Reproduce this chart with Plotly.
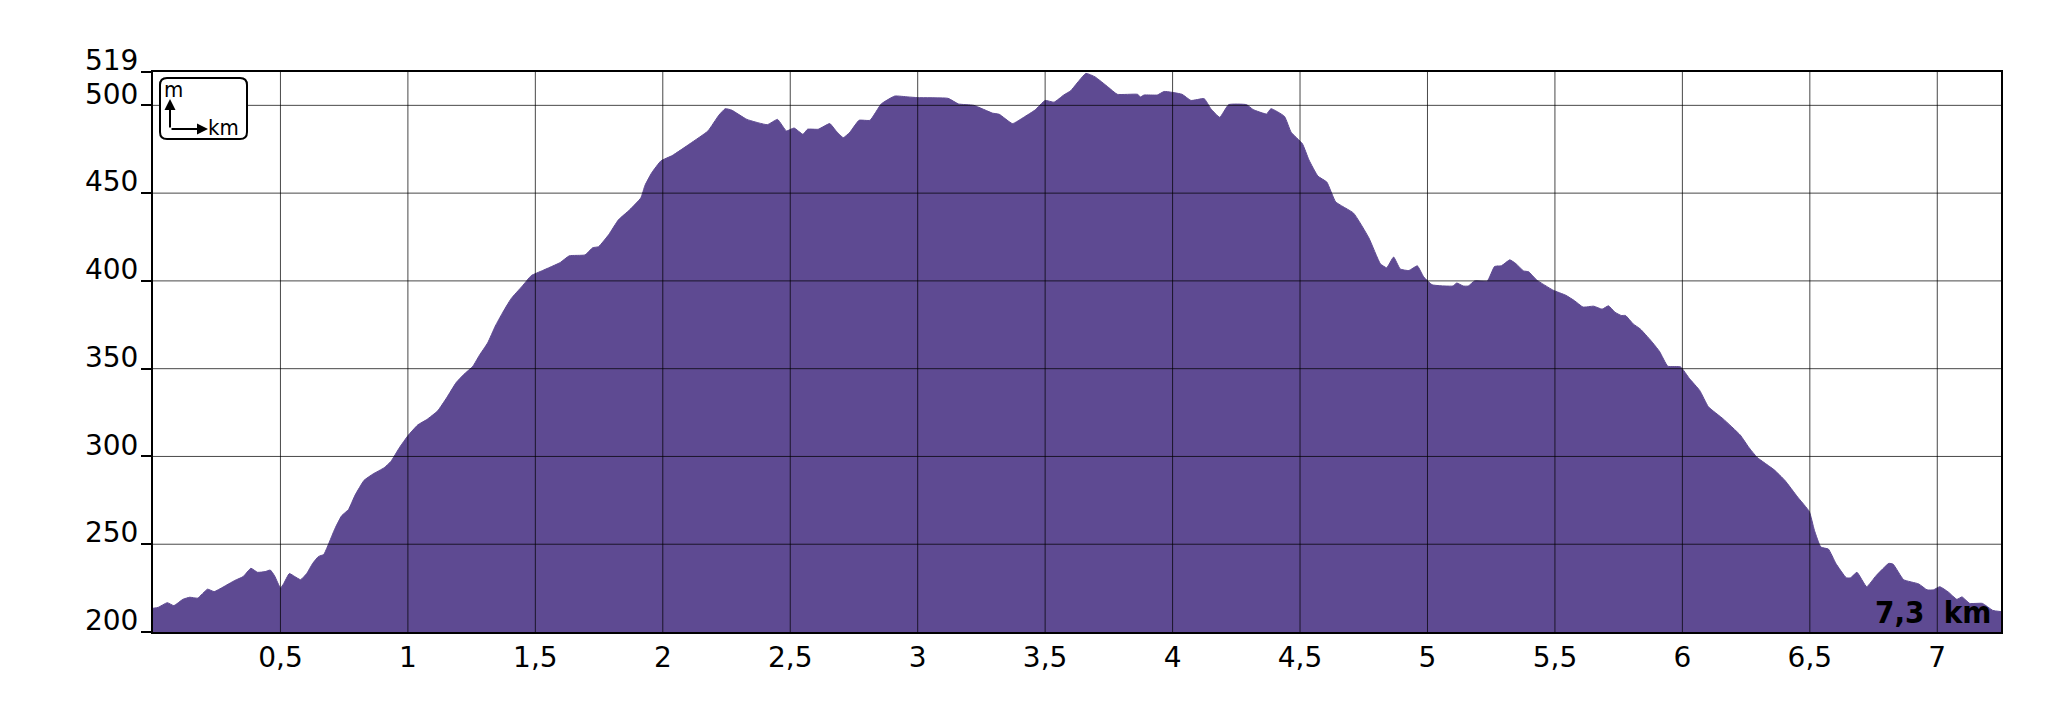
import plotly.graph_objects as go

# ---- data ----
distance_km = [
    0.0, 0.02, 0.056, 0.082, 0.117, 0.144, 0.175, 0.214, 0.24, 0.275, 0.32, 0.354, 0.384, 0.41,
    0.44, 0.46, 0.477, 0.5, 0.512, 0.535, 0.556, 0.579, 0.603, 0.626, 0.649, 0.67, 0.687, 0.714,
    0.74, 0.767, 0.793, 0.828, 0.863, 0.907, 0.933, 0.968, 1.0, 1.039, 1.074, 1.117, 1.152, 1.19,
    1.22, 1.255, 1.28, 1.313, 1.343, 1.37, 1.405, 1.449, 1.484, 1.528, 1.598, 1.633, 1.695, 1.725,
    1.748, 1.788, 1.826, 1.87, 1.914, 1.93, 1.957, 1.993, 2.037, 2.107, 2.177, 2.22, 2.245, 2.27,
    2.33, 2.41, 2.45, 2.485, 2.515, 2.55, 2.568, 2.61, 2.655, 2.68, 2.708, 2.734, 2.77, 2.813,
    2.857, 2.91, 2.962, 3.0, 3.119, 3.16, 3.22, 3.293, 3.32, 3.372, 3.416, 3.46, 3.5, 3.535,
    3.573, 3.6, 3.66, 3.696, 3.748, 3.783, 3.862, 3.874, 3.888, 3.94, 3.967, 4.037, 4.072, 4.124,
    4.15, 4.185, 4.22, 4.29, 4.316, 4.369, 4.386, 4.439, 4.465, 4.509, 4.535, 4.57, 4.605, 4.64,
    4.71, 4.77, 4.815, 4.84, 4.867, 4.893, 4.927, 4.96, 4.985, 5.018, 5.1, 5.115, 5.14, 5.16,
    5.185, 5.235, 5.263, 5.29, 5.323, 5.347, 5.377, 5.397, 5.427, 5.452, 5.493, 5.543, 5.577,
    5.61, 5.652, 5.685, 5.71, 5.735, 5.76, 5.777, 5.807, 5.835, 5.877, 5.91, 5.943, 5.993, 6.027,
    6.068, 6.102, 6.16, 6.227, 6.26, 6.293, 6.36, 6.402, 6.452, 6.498, 6.518, 6.543, 6.573,
    6.602, 6.643, 6.66, 6.685, 6.723, 6.76, 6.81, 6.827, 6.868, 6.927, 6.96, 6.985, 7.01, 7.043,
    7.077, 7.097, 7.127, 7.177, 7.218, 7.25,
]
elevation_m = [
    213.5, 214, 216.7, 215, 218.6, 219.8, 219.3, 224.4, 223, 225.6, 229.3, 231.6, 236.3, 234,
    234.4, 235.3, 232, 225.1, 227.4, 233.3, 231.6, 229.8, 233.3, 239, 243, 244.2, 249.5, 259,
    266.2, 269.8, 278, 286.4, 290, 293.6, 297.1, 305.3, 311.8, 318, 321, 326, 333.4, 342.2,
    346.8, 351.4, 357.5, 364.7, 374.3, 381.5, 389.9, 397.1, 403, 405.9, 410.5, 414.3, 414.8, 418.9,
    419.5, 426.4, 434.8, 440.5, 447.3, 454.4, 461.7, 468.4, 471.4, 478.2, 485.4, 494.4, 498.1, 497.3,
    492, 489, 492, 485.4, 487.1, 483.5, 486.4, 486.4, 489.6, 485.4, 481.6, 484.7, 491.5, 491.5,
    500.8, 505.3, 504.8, 504.4, 504, 500.8, 500, 495.6, 494.9, 489.6, 493.2, 497.3, 502.8, 501.8,
    505.9, 508.3, 518.2, 516.2, 510.3, 506.3, 506.3, 504.8, 505.9, 505.9, 507.9, 506.3, 502.8, 503.8,
    498.1, 493.2, 500.4, 500.4, 497.6, 495.1, 498.1, 493.7, 484.7, 478.2, 468.9, 459.7, 456.3, 445,
    438.6, 424.5, 409.8, 407.5, 413.6, 406.8, 405.9, 408.6, 402.3, 397.8, 397.1, 398.8, 397.1, 397.1,
    400, 400, 408.2, 408.6, 412, 409.8, 405.7, 405.2, 400.7, 398.3, 394.7, 391.8, 388.7,
    385.1, 385.6, 383.9, 385.8, 382.2, 380.3, 380.3, 375.5, 372.6, 365.9, 359.9, 351.4, 351, 344.5,
    337.6, 328.3, 321.4, 312.2, 305.3, 299.5, 292.4, 286.4, 276.9, 268.6, 257.9, 248.4, 247.2,
    239.1, 230.9, 230.9, 234, 225.8, 232.1, 239.1, 238.6, 229.8, 227.4, 224, 224, 225.8, 222.8,
    218.6, 220, 216.3, 216.3, 212.3, 211.6,
]

x_tick_values = [0.5, 1, 1.5, 2, 2.5, 3, 3.5, 4, 4.5, 5, 5.5, 6, 6.5, 7]
x_tick_labels = ["0,5", "1", "1,5", "2", "2,5", "3", "3,5", "4", "4,5", "5", "5,5", "6", "6,5", "7"]
y_tick_values = [200, 250, 300, 350, 400, 450, 500, 519]
y_tick_labels = ["200", "250", "300", "350", "400", "450", "500", "519"]
x_range = [0, 7.25]
y_range = [200, 519]
total_label = "7,3"

FILL = "#5E4A92"
GRID = "rgba(0,0,0,0.72)"
FONT = "DejaVu Sans"
FONT_C = "DejaVu Sans Condensed"

fig = go.Figure(
    go.Scatter(
        x=distance_km, y=elevation_m, mode="lines",
        line=dict(color=FILL, width=1, shape="spline", smoothing=0.4),
        fill="tozeroy", fillcolor=FILL, hoverinfo="skip",
    )
)

# grid drawn above the filled profile
for v in x_tick_values:
    fig.add_shape(type="line", xref="x", yref="paper", x0=v, x1=v, y0=0, y1=1,
                  line=dict(color=GRID, width=1), layer="above")
for v in y_tick_values[1:-1]:
    fig.add_shape(type="line", xref="paper", yref="y", x0=0, x1=1, y0=v, y1=v,
                  line=dict(color=GRID, width=1), layer="above")

W, H = 2067, 709
OFF = 8  # page body margin
# target plot box in the screenshot: x 152.6..2001, y 71.7..632
L, R, T, B = 145, 74, 64, 85
PW, PH = W - L - R, H - T - B
SX0, SY1 = L + OFF, T + OFF + PH  # screen left / bottom of plot


def px(x):
    return (x - SX0) / PW


def py(y):
    return (SY1 - y) / PH


# rounded legend box (screen pixel positions)
x0, x1, y0, y1, r = 160, 247, 78, 139, 7
rx, ry = r / PW, r / PH
bx0, bx1, by0, by1 = px(x0), px(x1), py(y1), py(y0)
path = (f"M{bx0+rx},{by0} L{bx1-rx},{by0} Q{bx1},{by0} {bx1},{by0+ry} "
        f"L{bx1},{by1-ry} Q{bx1},{by1} {bx1-rx},{by1} L{bx0+rx},{by1} "
        f"Q{bx0},{by1} {bx0},{by1-ry} L{bx0},{by0+ry} Q{bx0},{by0} {bx0+rx},{by0} Z")
fig.add_shape(type="path", xref="paper", yref="paper", path=path,
              line=dict(color="black", width=2), fillcolor="white", layer="above")

# arrows in legend box
fig.add_annotation(xref="paper", yref="paper", x=px(170), y=py(99), ax=0, ay=30,
                   showarrow=True, arrowhead=2, arrowsize=1.1, arrowwidth=2, arrowcolor="black", text="")
fig.add_annotation(xref="paper", yref="paper", x=px(208), y=py(129), ax=-38, ay=0,
                   showarrow=True, arrowhead=2, arrowsize=1.1, arrowwidth=2, arrowcolor="black", text="")
fig.add_annotation(xref="paper", yref="paper", x=px(162), y=py(89), xanchor="left", yanchor="middle",
                   text="m", showarrow=False, font=dict(family=FONT_C, size=22, color="black"))
fig.add_annotation(xref="paper", yref="paper", x=px(206), y=py(127), xanchor="left", yanchor="middle",
                   text="km", showarrow=False, font=dict(family=FONT_C, size=22, color="black"))

# total distance label
fig.add_annotation(xref="paper", yref="paper", x=1, y=0, xanchor="right", yanchor="bottom",
                   xshift=-8, yshift=0, text=f"<b>{total_label}\u00a0\u00a0km</b>", showarrow=False,
                   font=dict(family=FONT_C, size=31, color="black"))

fig.update_layout(
    width=W, height=H,
    margin=dict(l=L, r=R, t=T, b=B, pad=0, autoexpand=False),
    paper_bgcolor="white", plot_bgcolor="white",
    showlegend=False,
    xaxis=dict(range=x_range, tickvals=x_tick_values, ticktext=x_tick_labels, automargin=False,
               showgrid=False, zeroline=False, ticks="", showline=True, linecolor="black",
               linewidth=2, mirror=True, tickfont=dict(family=FONT, size=28, color="black"),
               ticklabelstandoff=-1),
    yaxis=dict(range=y_range, tickvals=y_tick_values, ticktext=y_tick_labels, automargin=False,
               showgrid=False, zeroline=False, ticks="outside", ticklen=10, tickwidth=2,
               tickcolor="black", ticklabelposition="outside top", ticklabelshift=9,
               ticklabelstandoff=7,
               showline=True, linecolor="black", linewidth=2, mirror=True,
               tickfont=dict(family=FONT, size=28, color="black")),
)

fig.write_html("out.html")
